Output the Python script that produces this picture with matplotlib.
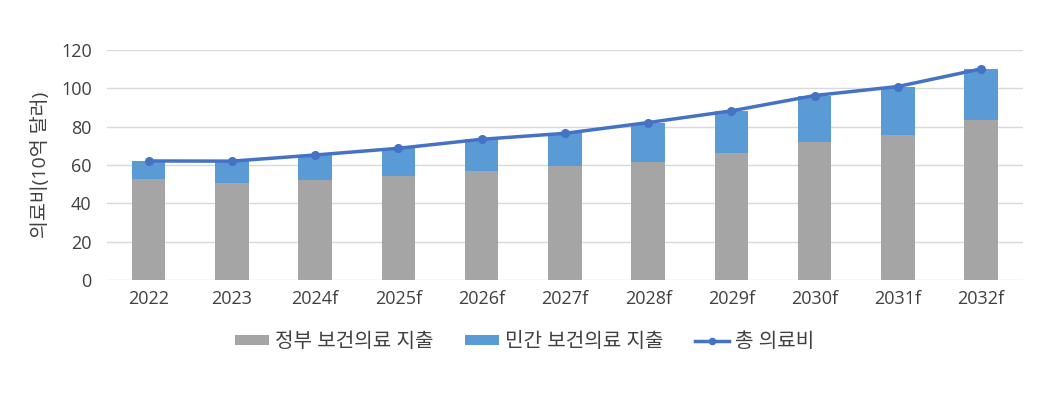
import numpy as np
import matplotlib
matplotlib.use('agg')
from matplotlib import pyplot as plt

plt.rcParams['font.family'] = ['Open Sans', 'Noto Sans CJK KR', 'DejaVu Sans']

years = ["2022", "2023", "2024f", "2025f", "2026f", "2027f",
         "2028f", "2029f", "2030f", "2031f", "2032f"]
public = [52.7, 50.8, 52.2, 54.3, 56.9, 59.5, 61.4, 66.1, 72.2, 75.5, 83.5]
total = [62.1, 62.0, 65.2, 68.7, 73.4, 76.5, 82.1, 88.2, 96.2, 100.9, 110.1]
private = [t - p for t, p in zip(total, public)]

TEXT = "#404040"

fig = plt.figure(figsize=(10.49, 3.99), dpi=100)
ax = fig.add_axes([0.102, 0.298, 0.873, 0.577])

x = np.arange(len(years))
b1 = ax.bar(x, public, width=0.4, color="#A5A5A5", label="정부 보건의료 지출", zorder=2)
b2 = ax.bar(x, private, width=0.4, bottom=public, color="#5B9BD5",
            label="민간 보건의료 지출", zorder=2)
ln, = ax.plot(x, total, color="#4472C4", lw=2.5, marker='o', ms=5.5,
              label="총 의료비", zorder=3)

ax.set_xlim(-0.5, len(years) - 0.5)
ax.set_ylim(0, 120)
ax.set_yticks(range(0, 121, 20))
ax.set_xticks(x)
ax.set_xticklabels(years)
ax.grid(axis='y', color="#D9D9D9", lw=1, zorder=0)
for s in ax.spines.values():
    s.set_visible(False)
ax.tick_params(length=0, labelsize=13, labelcolor=TEXT)
ax.tick_params(axis='y', pad=11)
ax.tick_params(axis='x', pad=7)
ax.set_ylabel("의료비(10억 달러)", fontsize=14, color=TEXT, labelpad=8)

fig.legend(handles=[b1, b2, ln], loc='center', bbox_to_anchor=(0.5, 0.143),
           ncol=3, frameon=False, fontsize=14.5, labelcolor=TEXT,
           handlelength=1.7, handleheight=0.4, columnspacing=1.6,
           handletextpad=0.25, markerscale=0.8)

fig.savefig("out.png", dpi=100, facecolor="white")
